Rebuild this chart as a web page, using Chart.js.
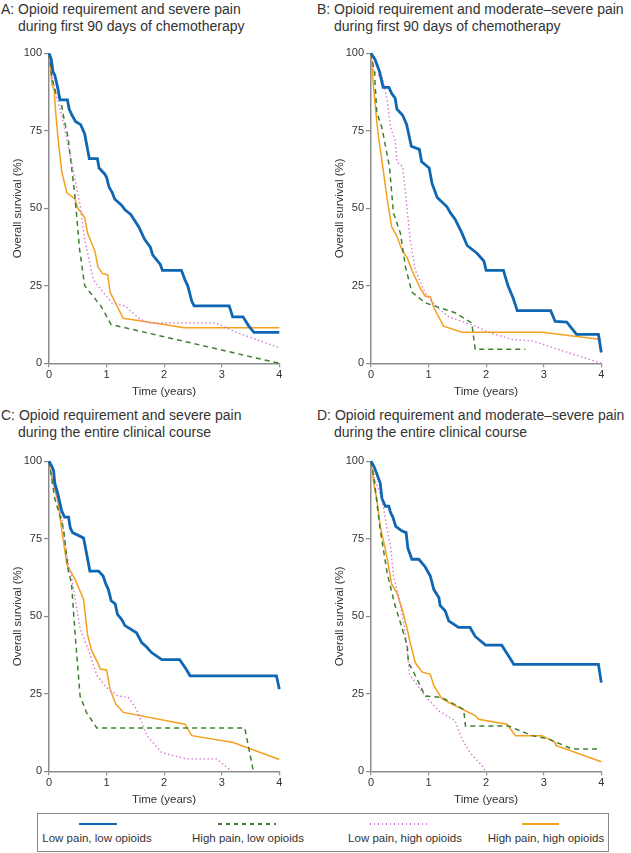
<!DOCTYPE html>
<html>
<head>
<meta charset="utf-8">
<script src="https://cdn.jsdelivr.net/npm/chart.js@4.4.1/dist/chart.umd.min.js"></script>
<style>
  body { margin: 0; background: #fff; font-family: "Liberation Sans", Arial, sans-serif; color: #333; }
  #page { position: relative; width: 631px; height: 853px; overflow: hidden; }
  .title { position: absolute; font-size: 14px; line-height: 17.7px; white-space: nowrap; color: #333; }
  .title .l2 { padding-left: 17px; }
  canvas.panel { position: absolute; }
  #legend { position: absolute; left: 36.5px; top: 813px; width: 572px; height: 39px; border: 1px solid #888; box-sizing: border-box; }
  .sw { position: absolute; }
  .lab { position: absolute; top: 18px; width: 160px; text-align: center; font-size: 11.5px; color: #333; }
</style>
</head>
<body>
<div id="page">
  <div class="title" style="left:1px; top:0.5px;"><div id="tA"></div><div class="l2" id="tA2"></div></div>
  <div class="title" style="left:317px; top:0.5px;"><div id="tB"></div><div class="l2" id="tB2"></div></div>
  <div class="title" style="left:1px; top:406.5px;"><div id="tC"></div><div class="l2" id="tC2"></div></div>
  <div class="title" style="left:317px; top:406.5px;"><div id="tD"></div><div class="l2" id="tD2"></div></div>

  <canvas class="panel" id="chartA" width="300" height="360" style="left:0px; top:40px;"></canvas>
  <canvas class="panel" id="chartB" width="300" height="360" style="left:321.7px; top:40px;"></canvas>
  <canvas class="panel" id="chartC" width="300" height="360" style="left:0px; top:448.4px;"></canvas>
  <canvas class="panel" id="chartD" width="300" height="360" style="left:321.7px; top:448.4px;"></canvas>

  <div id="legend"></div>
</div>

<script>
// panel titles (two lines each)
const panelTitles = [
  ['A: Opioid requirement and severe pain', 'during first 90 days of chemotherapy'],
  ['B: Opioid requirement and moderate\u2013severe pain', 'during first 90 days of chemotherapy'],
  ['C: Opioid requirement and severe pain', 'during the entire clinical course'],
  ['D: Opioid requirement and moderate\u2013severe pain', 'during the entire clinical course']
];

const seriesNames = ['Low pain, low opioids', 'High pain, low opioids', 'Low pain, high opioids', 'High pain, high opioids'];
const seriesColors = ['#0f66b3', '#3f8030', '#d77ad0', '#f5a01e'];

const xTicks = [0, 1, 2, 3, 4];
const yTicks = [0, 25, 50, 75, 100];

// survival curves: [time (years), survival (%)]
// Panel A
const aLowLow = [[0,100],[0.04,98],[0.07,94],[0.1,93],[0.15,89],[0.19,85],[0.32,85],[0.35,82],[0.4,80],[0.46,78],[0.55,77],[0.62,74],[0.7,66],[0.84,66],[0.87,63],[0.97,61],[1.0,60],[1.04,57],[1.1,55],[1.14,53],[1.26,51],[1.32,49.5],[1.42,48],[1.56,44],[1.66,40],[1.76,37.5],[1.8,35],[1.93,32],[1.97,30],[2.3,30],[2.36,27],[2.41,25],[2.48,20],[2.52,18.5],[3.13,18.5],[3.19,15],[3.37,15],[3.47,12],[3.56,10],[4.0,10]];
const aHighLow = [[0,100],[0.05,92],[0.12,87],[0.2,85],[0.27,78],[0.33,73],[0.45,54],[0.53,37],[0.62,25],[0.9,18.5],[1.08,12.5],[4,0]];
const aLowHigh = [[0,100],[0.05,93],[0.13,86],[0.22,80],[0.39,65],[0.54,51],[0.62,40],[0.77,27],[0.94,23],[1.09,19.5],[1.32,18.5],[1.58,14.2],[1.75,13],[2.9,13],[3.25,10],[4,5]];
const aHighHigh = [[0,100],[0.03,95],[0.05,90],[0.09,88],[0.12,80],[0.16,72],[0.22,62],[0.31,55],[0.45,53],[0.5,50],[0.62,47],[0.67,42],[0.8,36],[0.85,31],[0.93,29],[1.02,28.5],[1.06,23],[1.18,18.5],[1.29,14.5],[2.0,12.5],[2.35,11.5],[4,11.5]];

// Panel B
const bLowLow = [[0,100],[0.07,98],[0.15,94],[0.21,89],[0.31,89],[0.36,87],[0.42,85.5],[0.45,82],[0.55,80],[0.62,77],[0.7,70],[0.84,69],[0.88,65],[1.01,63],[1.06,58],[1.15,53.5],[1.32,50.5],[1.38,48.5],[1.46,46.5],[1.58,42],[1.67,38],[1.84,35.5],[1.96,33],[2.0,30],[2.3,30],[2.38,25],[2.47,21],[2.54,17],[3.12,17],[3.2,13.5],[3.4,13.3],[3.57,9.3],[3.95,9.3],[4,3.5]];
const bHighLow = [[0,100],[0.06,94],[0.1,81],[0.19,76],[0.32,63.5],[0.39,48.5],[0.51,42],[0.6,31],[0.71,23],[0.94,19.5],[1.46,16.3],[1.75,13],[1.81,4.5],[2.68,4.5]];
const bLowHigh = [[0,100],[0.05,94],[0.2,92],[0.28,85],[0.34,76],[0.42,72],[0.45,65],[0.55,63.5],[0.61,53],[0.68,40],[0.77,30],[0.94,22.7],[1.12,18.5],[1.35,15],[1.81,12],[2.04,10],[2.45,7.7],[2.8,7.2],[4,0]];
const bHighHigh = [[0,100],[0.04,90],[0.1,78],[0.13,73],[0.2,64],[0.28,53],[0.36,44],[0.45,41],[0.54,36.5],[0.63,34],[0.71,30],[0.86,24],[0.94,21.7],[1.03,21.5],[1.09,18],[1.26,12],[1.58,10],[2.97,10],[4,7.7]];

// Panel C
const cLowLow = [[0,100],[0.05,98.4],[0.08,97],[0.1,93],[0.16,89],[0.22,84],[0.27,82],[0.34,82],[0.37,78.5],[0.41,77],[0.6,75.3],[0.65,70.5],[0.71,64.6],[0.86,64.6],[0.94,63],[0.99,60.3],[1.03,58.7],[1.08,55],[1.15,54],[1.19,50.6],[1.26,49],[1.32,47],[1.52,44.7],[1.61,41.5],[1.7,40],[1.78,38.3],[1.96,36],[2.27,36],[2.38,33],[2.45,30.8],[3.95,30.8],[4,26.5]];
const cHighLow = [[0,100],[0.05,94],[0.1,88],[0.25,78.5],[0.34,64],[0.39,61],[0.45,45],[0.54,24.3],[0.65,19],[0.83,14],[3.4,14],[3.55,0]];
const cLowHigh = [[0,100],[0.05,95],[0.22,82],[0.34,66],[0.39,63],[0.54,46],[0.68,39.4],[0.83,31],[1.0,27],[1.2,24.3],[1.38,23.8],[1.52,20],[1.7,11.5],[1.96,6],[2.39,4],[2.91,4],[3.17,0]];
const cHighHigh = [[0,100],[0.05,95],[0.16,86.6],[0.22,78],[0.31,66.7],[0.45,62],[0.6,55.5],[0.67,44],[0.74,39],[0.86,34.5],[0.89,33],[1.0,32.7],[1.06,26.5],[1.16,21.7],[1.29,19],[2.36,15.2],[2.48,11.5],[3.2,9.3],[4,3.8]];

// Panel D
const dLowLow = [[0,100],[0.05,98.4],[0.1,96],[0.16,93],[0.19,88],[0.25,85.5],[0.31,85.5],[0.34,83.4],[0.38,82],[0.43,79],[0.54,77.5],[0.61,77],[0.64,72],[0.71,68.4],[0.83,68.4],[0.94,66],[1.03,63],[1.09,58.7],[1.18,56],[1.2,53.5],[1.29,51.7],[1.35,48.5],[1.52,46.4],[1.72,46.4],[1.81,43.5],[1.99,40.7],[2.27,40.7],[2.39,37.2],[2.48,34.5],[3.95,34.5],[4,28.6]];
const dHighLow = [[0,100],[0.05,95],[0.1,87],[0.16,78],[0.28,64],[0.42,53.3],[0.51,48],[0.63,40.5],[0.65,35],[0.74,32],[0.94,24.3],[1.23,23.8],[1.61,20],[1.64,14.6],[2.39,14.6],[2.8,11.5],[3.09,10.4],[3.49,7.2],[3.94,7.2]];
const dLowHigh = [[0,100],[0.05,95],[0.19,88],[0.28,78],[0.34,72.6],[0.39,63],[0.48,56.5],[0.55,49.6],[0.6,43.7],[0.67,31.3],[0.77,28.6],[0.94,24.3],[1.18,19.5],[1.46,16.3],[1.58,10.4],[1.72,6],[1.93,1.8],[1.99,0]];
const dHighHigh = [[0,100],[0.05,92.5],[0.1,88],[0.16,79],[0.25,71.6],[0.31,65.7],[0.36,60.3],[0.45,57.6],[0.55,51.7],[0.63,45.8],[0.68,41.5],[0.77,35],[0.89,32],[1.03,31.3],[1.09,27.6],[1.23,23.5],[1.35,22.2],[1.81,18],[1.87,16.8],[2.36,15.2],[2.51,11.5],[2.97,11.5],[3.2,9.3],[3.21,8.3],[4,3.1]];

const lineWidths = [2.8, 1.5, 1.4, 1.5];
const lineDashes = [[], [5, 4], [1.5, 2.5], []];

Chart.defaults.font.family = '"Liberation Sans", Arial, sans-serif';
Chart.defaults.color = '#333';

const axisGray = '#8c8c8c';

// titles
['A', 'B', 'C', 'D'].forEach((k, i) => {
  document.getElementById('t' + k).textContent = panelTitles[i][0];
  document.getElementById('t' + k + '2').textContent = panelTitles[i][1];
});

function makePanel(id, sets) {
  return new Chart(document.getElementById(id), {
    type: 'line',
    data: {
      datasets: sets.map((pts, i) => ({
        label: seriesNames[i],
        data: pts.map(p => ({ x: p[0], y: p[1] })),
        borderColor: seriesColors[i],
        borderWidth: lineWidths[i],
        borderDash: lineDashes[i],
        pointRadius: 0,
        tension: 0,
        fill: false,
        clip: false
      }))
    },
    options: {
      responsive: false,
      animation: false,
      events: [],
      layout: { padding: { top: 13.3, right: 20.7, left: 0, bottom: 1.4 } },
      plugins: { legend: { display: false }, tooltip: { enabled: false } },
      scales: {
        x: {
          type: 'linear', min: 0, max: 4,
          afterBuildTicks: s => { s.ticks = xTicks.map(v => ({ value: v })); },
          grid: { drawOnChartArea: false, drawTicks: true, tickLength: 4, color: axisGray, lineWidth: 1.2 },
          border: { display: true, color: axisGray, width: 1.5 },
          ticks: { font: { size: 11 }, padding: 1, maxRotation: 0, autoSkip: false },
          title: { display: true, text: 'Time (years)', font: { size: 11.5 }, padding: { top: 2.3, bottom: 0 } }
        },
        y: {
          type: 'linear', min: 0, max: 100,
          afterBuildTicks: s => { s.ticks = yTicks.map(v => ({ value: v })); },
          afterFit: s => { s.width = 49; },
          grid: { drawOnChartArea: false, drawTicks: true, tickLength: 5, color: axisGray, lineWidth: 1.2 },
          border: { display: true, color: axisGray, width: 1.5 },
          ticks: { font: { size: 11 }, padding: 2 },
          title: { display: true, text: 'Overall survival (%)', font: { size: 11.5 }, padding: { top: 11, bottom: 0 } }
        }
      }
    }
  });
}

makePanel('chartA', [aLowLow, aHighLow, aLowHigh, aHighHigh]);
makePanel('chartB', [bLowLow, bHighLow, bLowHigh, bHighHigh]);
makePanel('chartC', [cLowLow, cHighLow, cLowHigh, cHighHigh]);
makePanel('chartD', [dLowLow, dHighLow, dLowHigh, dHighHigh]);

// legend below the panels
const legend = document.getElementById('legend');
const swatchLeft = [41, 180, 332, 484];
const swatchWidth = [38, 58, 60, 37];
const labelCenter = [59.5, 210.5, 367.5, 508.5];
seriesNames.forEach((name, i) => {
  const sw = document.createElement('div');
  sw.className = 'sw';
  sw.style.left = swatchLeft[i] + 'px';
  sw.style.width = swatchWidth[i] + 'px';
  const h = lineWidths[i];
  sw.style.height = h + 'px';
  sw.style.top = (10 - h / 2) + 'px';
  const c = seriesColors[i];
  if (i === 1) {
    sw.style.background = `repeating-linear-gradient(90deg, ${c} 0 4.5px, transparent 4.5px 8px)`;
  } else if (i === 2) {
    sw.style.background = `repeating-linear-gradient(90deg, ${c} 0 1.5px, transparent 1.5px 4px)`;
  } else {
    sw.style.background = c;
  }
  legend.appendChild(sw);

  const lab = document.createElement('div');
  lab.className = 'lab';
  lab.style.left = (labelCenter[i] - 80) + 'px';
  lab.textContent = name;
  legend.appendChild(lab);
});
</script>
</body>
</html>
